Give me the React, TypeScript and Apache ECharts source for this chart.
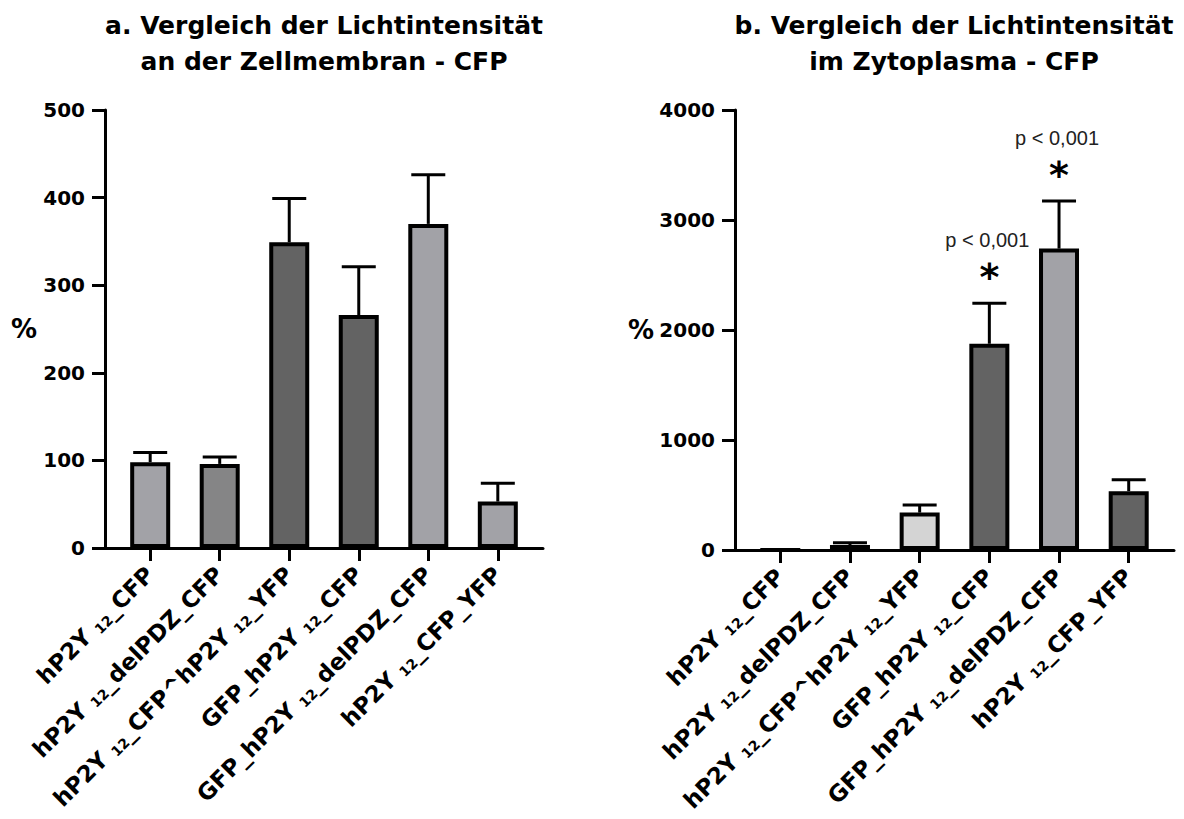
import React, { useEffect, useRef } from 'react';
import * as echarts from 'echarts';

// ---- data ----
const categories = [
  'hP2Y12_CFP',
  'hP2Y12_delPDZ_CFP',
  'hP2Y12_CFP^hP2Y12_YFP',
  'GFP_hP2Y12_CFP',
  'GFP_hP2Y12_delPDZ_CFP',
  'hP2Y12_CFP_YFP',
];
const categoryIndex = [0, 1, 2, 3, 4, 5];

const leftTitle = 'a. Vergleich der Lichtintensität\nan der Zellmembran - CFP';
const leftValues = [98, 96, 349, 266, 370, 53];
const leftErrors = [109, 104, 399, 321, 426, 74];
const leftColors = ['#a2a2a7', '#858586', '#636363', '#636363', '#a2a2a7', '#a2a2a7'];
const leftMax = 500;
const leftStep = 100;

const rightTitle = 'b. Vergleich der Lichtintensität\nim Zytoplasma - CFP';
const rightValues = [0, 45, 340, 1875, 2740, 535];
const rightErrors = [0, 65, 409, 2244, 3173, 639];
const rightColors = ['#a2a2a7', '#3a3a3a', '#d4d4d4', '#636363', '#a2a2a7', '#636363'];
const rightSignificance = ['', '', '', 'p < 0,001', 'p < 0,001', ''];
const rightMax = 4000;
const rightStep = 1000;

const yAxisName = '%';

// ---- styling helpers ----
const BOLD_FAMILY = 'DejaVu Sans';

function richLabel(s: string): string {
  const parts = s.split('12');
  return parts
    .map((p, i) => {
      const txt = i < parts.length - 1 ? p + ' ' : p;
      return txt ? `{b|${txt}}` : '';
    })
    .join('{s|12}');
}

function makeXAxis(gridIndex: number) {
  return {
    type: 'value',
    gridIndex,
    min: -0.65,
    max: 5.65,
    axisLine: { show: true, onZero: false, lineStyle: { color: '#000', width: 3 } },
    axisTick: {
      show: true,
      customValues: categoryIndex,
      length: 13,
      lineStyle: { color: '#000', width: 3 },
    },
    axisLabel: {
      show: true,
      customValues: categoryIndex,
      rotate: 45,
      margin: 23,
      hideOverlap: false,
      formatter: (v: number) => richLabel(categories[Math.round(v)]),
      rich: {
        b: {
          fontFamily: BOLD_FAMILY,
          fontWeight: 'bold',
          fontSize: 23,
          color: '#000',
          verticalAlign: 'bottom',
          padding: [0, 0, 1, 0],
        },
        s: {
          fontFamily: BOLD_FAMILY,
          fontWeight: 'bold',
          fontSize: 14,
          color: '#000',
          verticalAlign: 'bottom',
        },
      },
    },
    splitLine: { show: false },
  };
}

function makeYAxis(gridIndex: number, max: number, step: number, nameGap: number) {
  return {
    type: 'value',
    gridIndex,
    min: 0,
    max,
    interval: step,
    name: yAxisName,
    nameLocation: 'middle',
    nameRotate: 0,
    nameGap,
    nameMoveOverlap: false,
    nameTextStyle: {
      fontFamily: BOLD_FAMILY,
      fontWeight: 'bold',
      fontSize: 26,
      color: '#000',
    },
    axisLine: { show: true, onZero: false, lineStyle: { color: '#000', width: 3 } },
    axisTick: { show: true, length: 13, lineStyle: { color: '#000', width: 3 } },
    axisLabel: {
      margin: 20,
      fontFamily: BOLD_FAMILY,
      fontWeight: 'bold',
      fontSize: 20,
      color: '#000',
      formatter: (v: number) => String(v),
    },
    splitLine: { show: false },
  };
}

function makeBars(idx: number, values: number[], colors: string[]) {
  return {
    type: 'bar',
    xAxisIndex: idx,
    yAxisIndex: idx,
    barWidth: 40,
    itemStyle: { borderColor: '#000', borderWidth: 4 },
    data: values.map((v, i) => ({
      value: [categoryIndex[i], v],
      itemStyle: { color: colors[i] },
    })),
    z: 2,
  };
}

function makeErrors(idx: number, values: number[], errors: number[], sig: string[]) {
  return {
    type: 'custom',
    xAxisIndex: idx,
    yAxisIndex: idx,
    z: 3,
    encode: { x: 0, y: [1, 2] },
    data: values.map((v, i) => [categoryIndex[i], v, errors[i]]),
    renderItem: (params: any, api: any) => {
      const x = api.value(0);
      const v = api.value(1);
      const e = api.value(2);
      const top = api.coord([x, e]);
      const base = api.coord([x, v]);
      const children: any[] = [];
      if (e > v) {
        children.push({
          type: 'line',
          shape: { x1: top[0], y1: base[1], x2: top[0], y2: top[1] },
          style: { stroke: '#000', lineWidth: 3 },
        });
        children.push({
          type: 'line',
          shape: { x1: top[0] - 17, y1: top[1], x2: top[0] + 17, y2: top[1] },
          style: { stroke: '#000', lineWidth: 3 },
        });
      }
      const s = sig[params.dataIndex];
      if (s) {
        children.push({
          type: 'text',
          x: top[0],
          y: top[1] - 26,
          style: {
            text: '*',
            fontFamily: BOLD_FAMILY,
            fontWeight: 'bold',
            fontSize: 38,
            fill: '#000',
            align: 'center',
            verticalAlign: 'middle',
          },
        });
        children.push({
          type: 'text',
          x: top[0] - 2,
          y: top[1] - 63,
          style: {
            text: s,
            fontFamily: 'Liberation Sans',
            fontSize: 20,
            fill: '#222',
            align: 'center',
            verticalAlign: 'middle',
          },
        });
      }
      return { type: 'group', children };
    },
  };
}

function makeTitle(text: string, cx: number) {
  return {
    type: 'text',
    x: cx,
    y: 7,
    style: {
      text,
      fontFamily: BOLD_FAMILY,
      fontWeight: 'bold',
      fontSize: 25,
      lineHeight: 36,
      fill: '#000',
      align: 'center',
      verticalAlign: 'top',
    },
  };
}

export default function App() {
  const ref = useRef<HTMLDivElement>(null);
  useEffect(() => {
    if (!ref.current) return;
    const chart = echarts.init(ref.current, null, { renderer: 'svg' });
    const option: any = {
      animation: false,
      backgroundColor: '#fff',
      grid: [
        { left: 105, top: 110, width: 438, height: 438, outerBoundsMode: 'none', containLabel: false },
        { left: 735, top: 110, width: 439, height: 440, outerBoundsMode: 'none', containLabel: false },
      ],
      xAxis: [makeXAxis(0), makeXAxis(1)],
      yAxis: [
        makeYAxis(0, leftMax, leftStep, 68),
        makeYAxis(1, rightMax, rightStep, 81),
      ],
      series: [
        makeBars(0, leftValues, leftColors),
        makeErrors(0, leftValues, leftErrors, ['', '', '', '', '', '']),
        makeBars(1, rightValues, rightColors),
        makeErrors(1, rightValues, rightErrors, rightSignificance),
      ],
      graphic: [makeTitle(leftTitle, 324), makeTitle(rightTitle, 954)],
    };
    chart.setOption(option);
    return () => chart.dispose();
  }, []);
  return (
    <div
      ref={ref}
      style={{ position: 'absolute', left: 0, top: 0, width: 1184, height: 819, background: '#fff' }}
    />
  );
}
